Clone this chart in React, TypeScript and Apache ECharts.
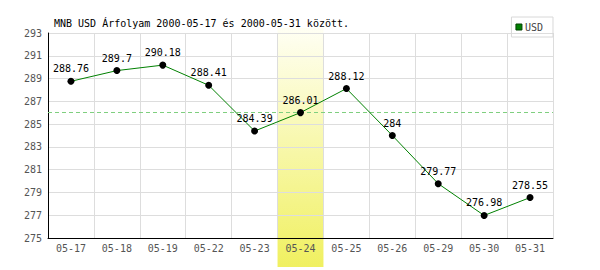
import React, { useEffect, useRef } from "react";
import * as echarts from "echarts";

const categories = ["05-17", "05-18", "05-19", "05-22", "05-23", "05-24", "05-25", "05-26", "05-29", "05-30", "05-31"];
const usdValues = [288.76, 289.7, 290.18, 288.41, 284.39, 286.01, 288.12, 284, 279.77, 276.98, 278.55];
const highlightCategory = "05-24";
const referenceValue = 286.01;
const titleText = "MNB USD Árfolyam 2000-05-17 és 2000-05-31 között.";
const seriesName = "USD";

const FONT = "'DejaVu Sans Mono', monospace";

export default function App() {
  const ref = useRef<HTMLDivElement>(null);
  useEffect(() => {
    if (!ref.current) return;
    const chart = echarts.init(ref.current, null, { renderer: "svg" });
    chart.setOption({
      animation: false,
      title: {
        text: titleText,
        left: 49,
        top: 13,
        textStyle: { fontFamily: FONT, fontSize: 10, fontWeight: "normal", color: "#000" },
      },
      legend: {
        right: 47,
        top: 17,
        data: [seriesName],
        icon: "rect",
        itemWidth: 6,
        itemHeight: 6,
        itemGap: 4,
        padding: [5, 10, 5, 4],
        borderColor: "#d8d8d8",
        borderWidth: 1,
        itemStyle: { color: "#008000", borderColor: "#004000", borderWidth: 1 },
        textStyle: { fontFamily: FONT, fontSize: 10, color: "#444", padding: [0, 0, 0, -2] },
      },
      grid: { left: 48, right: 47, top: 33, bottom: 32, containLabel: false },
      xAxis: {
        type: "category",
        data: categories,
        boundaryGap: true,
        axisLine: { show: true, lineStyle: { color: "#000", width: 1 } },
        axisTick: { show: false },
        axisLabel: { fontFamily: FONT, fontSize: 10, color: "#555", margin: 5 },
        splitLine: { show: true, lineStyle: { color: "#dddddd", width: 1 } },
        z: 3,
      },
      yAxis: {
        type: "value",
        min: 275,
        max: 293,
        interval: 2,
        axisLine: { show: true, lineStyle: { color: "#000", width: 1 } },
        axisTick: { show: false },
        axisLabel: { fontFamily: FONT, fontSize: 10, color: "#555", margin: 6 },
        splitLine: { show: true, lineStyle: { color: "#dddddd", width: 1 } },
        z: 3,
      },
      series: [
        {
          name: seriesName,
          type: "line",
          data: usdValues,
          z: 5,
          symbol: "circle",
          symbolSize: 7,
          itemStyle: { color: "#000" },
          lineStyle: { color: "#008000", width: 1 },
          label: {
            show: true,
            position: "top",
            distance: 4,
            fontFamily: FONT,
            fontSize: 10,
            color: "#000",
          },
          markLine: {
            silent: true,
            symbol: "none",
            label: { show: false },
            lineStyle: { color: "#7fcf7f", type: [4, 3], width: 1 },
            data: [{ yAxis: referenceValue }],
          },
        },
      ],
      color: ["#008000"],
    });

    const idx = categories.indexOf(highlightCategory);
    const xc = chart.convertToPixel({ xAxisIndex: 0 }, categories[idx]) as number;
    const xn = chart.convertToPixel({ xAxisIndex: 0 }, categories[idx + 1]) as number;
    const bandWidth = xn - xc;
    const left = xc - bandWidth / 2;
    chart.setOption({
      graphic: [
        {
          type: "rect",
          z: -1,
          silent: true,
          shape: { x: left, y: 28, width: bandWidth, height: 239 },
          style: {
            fill: new echarts.graphic.LinearGradient(0, 0, 0, 1, [
              { offset: 0, color: "#fffff4" },
              { offset: 1, color: "#f0f060" },
            ]),
          },
        },
      ],
    });
    return () => chart.dispose();
  }, []);
  return <div ref={ref} style={{ width: 600, height: 270, position: "absolute", left: 0, top: 0 }} />;
}
